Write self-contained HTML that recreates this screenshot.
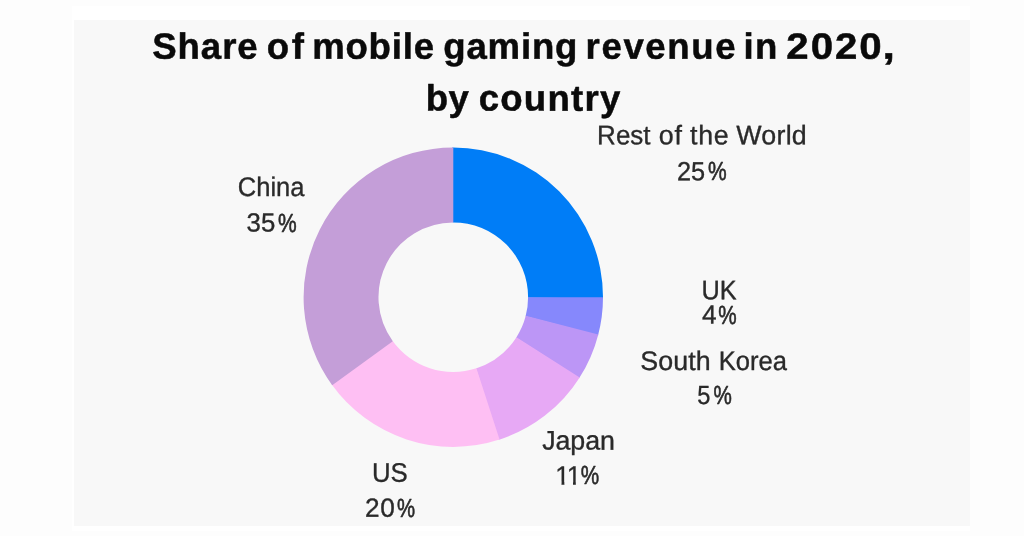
<!DOCTYPE html>
<html lang="en">
<head>
<meta charset="utf-8">
<title>Share of mobile gaming revenue in 2020, by country</title>
<style>
html,body{margin:0;padding:0;background:#fdfdfd;}
body{width:1024px;height:536px;overflow:hidden;position:relative;font-family:"Liberation Sans",Arial,sans-serif;}
.band{position:absolute;left:72px;top:6px;width:897.5px;height:525px;background:#fff;}
.panel{position:absolute;left:73.5px;top:19.5px;width:896px;height:506.5px;background:#f8f8f8;}
svg{position:absolute;left:0;top:0;}
svg text{font-family:"Liberation Sans",Arial,sans-serif;text-anchor:start;text-rendering:geometricPrecision;stroke-linejoin:round;}
.h{font-size:36.6px;font-weight:700;fill:#0a0a0a;stroke:#0a0a0a;stroke-width:.5px;}
.l{font-size:26.8px;font-weight:400;fill:#2a2a2a;stroke:#2a2a2a;stroke-width:.35px;}
.d{font-size:26.2px;}
.p{stroke-width:.6px;}
</style>
</head>
<body>
<div class="band"></div>
<div class="panel"></div>
<svg width="1024" height="536" viewBox="0 0 1024 536">
<defs><clipPath id="one" clipPathUnits="userSpaceOnUse"><path d="M1.6 -21H9.15V1H6.35V-2.6H1.6Z"/></clipPath></defs>
<g shape-rendering="geometricPrecision">
<path d="M452.25 147.50A149.7 149.7 0 0 1 603.00 298.25L528.10 297.72A74.8 74.8 0 0 0 452.78 222.40Z" fill="#007df7"/>
<path d="M603.00 297.20A149.7 149.7 0 0 1 598.03 335.44L525.62 316.31A74.8 74.8 0 0 0 528.10 297.20Z" fill="#8688fc"/>
<path d="M598.30 334.43A149.7 149.7 0 0 1 579.13 378.29L516.17 337.72A74.8 74.8 0 0 0 525.75 315.80Z" fill="#bc96f6"/>
<path d="M579.70 377.41A149.7 149.7 0 0 1 498.56 439.89L475.92 368.50A74.8 74.8 0 0 0 516.46 337.28Z" fill="#e7a9f5"/>
<path d="M499.56 439.57A149.7 149.7 0 0 1 331.58 384.34L392.48 340.74A74.8 74.8 0 0 0 476.41 368.34Z" fill="#febff3"/>
<path d="M332.19 385.19A149.7 149.7 0 0 1 453.30 147.50L453.30 222.40A74.8 74.8 0 0 0 392.79 341.17Z" fill="#c49ed8"/>
</g>
<g>
<text class="h" transform="translate(152.23 58.75) rotate(.03)" letter-spacing="0.941">Share</text>
<text class="h" transform="translate(266.65 58.75) rotate(.03)" letter-spacing="2.814">of</text>
<text class="h" transform="translate(312.14 58.75) rotate(.03)" letter-spacing="0.793">mobile</text>
<text class="h" transform="translate(443.28 58.75) rotate(.03)" letter-spacing="0.807">gaming</text>
<text class="h" transform="translate(585.62 58.75) rotate(.03)" letter-spacing="1.611">revenue</text>
<text class="h" transform="translate(743.59 58.75) rotate(.03)" letter-spacing="1.167">in</text>
<text class="h" transform="translate(786.32 58.75) rotate(.03) scale(1.1 1)" letter-spacing="1.757">2020</text>
<text class="h" transform="translate(882.58 58.75) rotate(.03) scale(1.2277 1)">,</text>
<text class="h" transform="translate(425.69 110.6) rotate(.03)" letter-spacing="0.561">by</text>
<text class="h" transform="translate(478.65 110.6) rotate(.03)" letter-spacing="1.241">country</text>
<text class="l" transform="translate(597.12 144.15) rotate(.03) scale(0.9692 1)">Rest</text>
<text class="l" transform="translate(658.71 144.15) rotate(.03)" letter-spacing="0.933">of</text>
<text class="l" transform="translate(690.11 144.15) rotate(.03)" letter-spacing="0.662">the</text>
<text class="l" transform="translate(736.33 144.15) rotate(.03)" letter-spacing="0.225">World</text>
<text class="l d" transform="translate(676.88 180.2) rotate(.03) scale(0.9664 1)">25</text>
<text class="l d p" transform="translate(708.08 180.2) rotate(.03) scale(0.8021 1)">%</text>
<text class="l" transform="translate(237.8 196.0) rotate(.03) scale(0.9523 1)">China</text>
<text class="l d" transform="translate(246.61 231.55) rotate(.03) scale(0.9844 1)">35</text>
<text class="l d p" transform="translate(278.08 231.55) rotate(.03) scale(0.8021 1)">%</text>
<text class="l" transform="translate(701.5 299.3) rotate(.03) scale(0.9437 1)">UK</text>
<text class="l d" transform="translate(701.93 323.6) rotate(.03) scale(1.0016 1)">4</text>
<text class="l d p" transform="translate(718.36 323.6) rotate(.03) scale(0.7899 1)">%</text>
<text class="l" transform="translate(640.26 369.9) rotate(.03)" letter-spacing="0.119">South</text>
<text class="l" transform="translate(718.71 369.9) rotate(.03) scale(0.9539 1)">Korea</text>
<text class="l d" transform="translate(697.19 404.2) rotate(.03) scale(0.9004 1)">5</text>
<text class="l d p" transform="translate(713.38 404.2) rotate(.03) scale(0.7874 1)">%</text>
<text class="l" transform="translate(542.17 449.6) rotate(.03)" letter-spacing="-0.073">Japan</text>
<text class="l d" transform="translate(555.2 484.45) rotate(.03)" clip-path="url(#one)">1</text>
<text class="l d" transform="translate(566.65 484.45) rotate(.03)" clip-path="url(#one)">1</text>
<text class="l d p" transform="translate(580.63 484.45) rotate(.03) scale(0.7913 1)">%</text>
<text class="l" transform="translate(372.02 481.75) rotate(.03) scale(0.9606 1)">US</text>
<text class="l d" transform="translate(365.12 516.8) rotate(.03)" letter-spacing="0.473">20</text>
<text class="l d p" transform="translate(396.98 516.8) rotate(.03) scale(0.7768 1)">%</text>
</g>
</svg>
</body>
</html>
